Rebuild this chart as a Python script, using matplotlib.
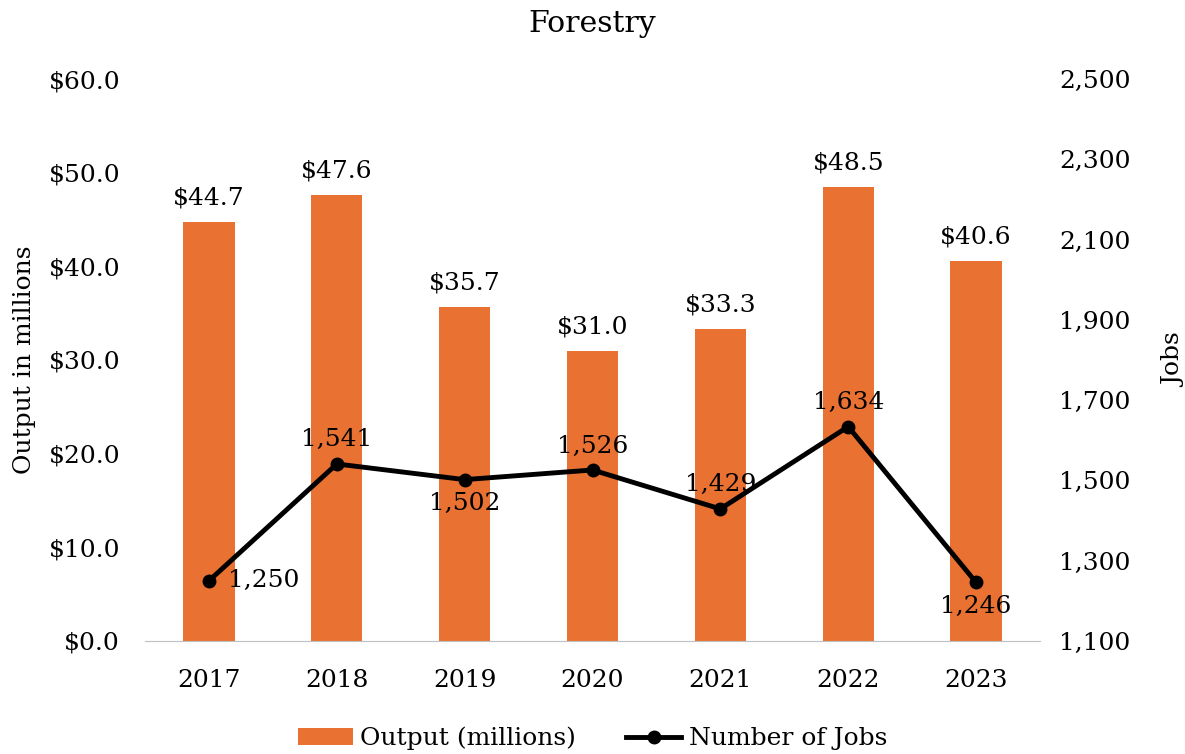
import matplotlib
matplotlib.use("Agg")
import matplotlib.pyplot as plt
from matplotlib.ticker import FuncFormatter

years = ["2017", "2018", "2019", "2020", "2021", "2022", "2023"]
output = [44.7, 47.6, 35.7, 31.0, 33.3, 48.5, 40.6]
jobs = [1250, 1541, 1502, 1526, 1429, 1634, 1246]
# where each jobs label sits relative to its point
job_label_pos = ["right", "above", "below", "above", "above", "above", "below"]

plt.rcParams["font.family"] = ["DejaVu Serif"]
plt.rcParams["font.size"] = 18

orange = "#E97132"

fig = plt.figure(figsize=(11.85, 7.54), dpi=100)
ax = fig.add_axes([0.1224, 0.1499, 0.7552, 0.7453])
ax2 = ax.twinx()

x = list(range(len(years)))
bars = ax.bar(x, output, width=0.40, color=orange, label="Output (millions)", zorder=2)
ax.set_ylim(0, 60)
ax.set_yticks(range(0, 61, 10))
ax.yaxis.set_major_formatter(FuncFormatter(lambda v, p: f"${v:.1f}"))
ax.set_xlim(-0.5, len(years) - 0.5)
ax.set_xticks(x)
ax.set_xticklabels(years)
ax.set_ylabel("Output in millions")
ax.yaxis.set_label_coords(-0.122, 0.5)
for v, xi in zip(output, x):
    ax.annotate(f"${v:.1f}", (xi, v), xytext=(0, 9), textcoords="offset points",
                ha="center", va="bottom")

line, = ax2.plot(x, jobs, color="black", lw=3.5, marker="o", ms=9,
                 label="Number of Jobs", zorder=3)
ax2.set_ylim(1100, 2500)
ax2.set_yticks(range(1100, 2501, 200))
ax2.yaxis.set_major_formatter(FuncFormatter(lambda v, p: f"{int(v):,}"))
ax2.set_ylabel("Jobs")
ax2.yaxis.set_label_coords(1.138, 0.5)
for xi, v, pos in zip(x, jobs, job_label_pos):
    if pos == "right":
        off, ha, va = (14, 0), "left", "center"
    elif pos == "above":
        off, ha, va = (0, 9), "center", "bottom"
    else:
        off, ha, va = (0, -9), "center", "top"
    ax2.annotate(f"{v:,}", (xi, v), xytext=off, textcoords="offset points",
                 ha=ha, va=va)

for a in (ax, ax2):
    for s in ("top", "left", "right"):
        a.spines[s].set_visible(False)
    a.tick_params(axis="y", length=0, pad=18)
ax.tick_params(axis="x", length=0, pad=20)
ax2.tick_params(axis="y", pad=14)
ax.spines["bottom"].set_color("#bfbfbf")
ax2.spines["bottom"].set_visible(False)

ax.set_title("Forestry", pad=34)

fig.legend(handles=[bars, line], loc="lower center", ncol=2, frameon=False,
           bbox_to_anchor=(0.5, -0.025), handlelength=2.2, handletextpad=0.3,
           columnspacing=2.0)

fig.savefig("out.png", dpi=100)
